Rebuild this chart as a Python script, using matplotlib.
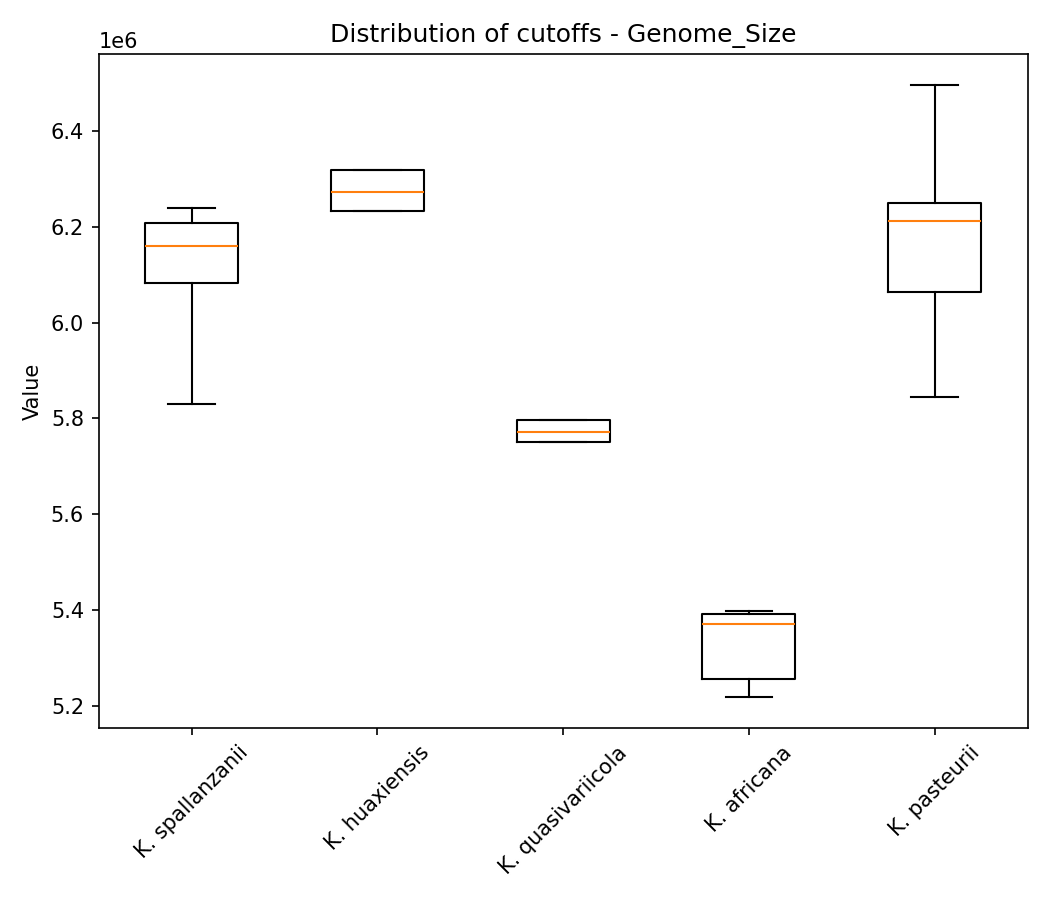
import matplotlib

matplotlib.use("Agg")
import matplotlib.pyplot as plt

# Box statistics (genome size, bp)
species = ["K. spallanzanii", "K. huaxiensis", "K. quasivariicola", "K. africana", "K. pasteurii"]
whislo = [5.831e6, 6.232e6, 5.751e6, 5.219e6, 5.845e6]
q1 = [6.083e6, 6.232e6, 5.751e6, 5.256e6, 6.063e6]
med = [6.160e6, 6.273e6, 5.772e6, 5.372e6, 6.212e6]
q3 = [6.207e6, 6.317e6, 5.796e6, 5.393e6, 6.249e6]
whishi = [6.238e6, 6.317e6, 5.796e6, 5.398e6, 6.496e6]

stats = []
for i, name in enumerate(species):
    stats.append(
        {"label": name, "whislo": whislo[i], "q1": q1[i], "med": med[i], "q3": q3[i], "whishi": whishi[i], "fliers": []}
    )

fig, ax = plt.subplots(figsize=(7, 6), dpi=150)
ax.bxp(stats, showfliers=False)
ax.set_title("Distribution of cutoffs - Genome_Size")
ax.set_ylabel("Value")
plt.xticks(rotation=45)
plt.tight_layout()
plt.savefig("out.png")
plt.close()
